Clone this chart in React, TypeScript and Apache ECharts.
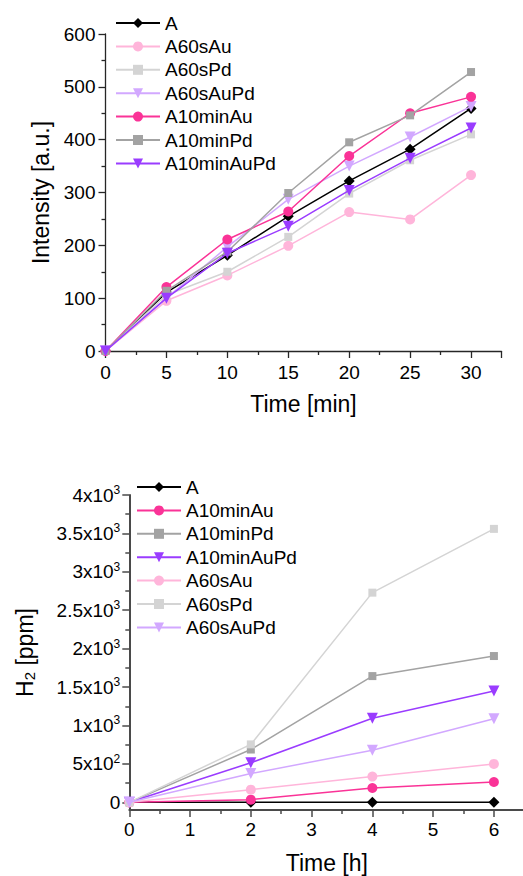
import React, { useEffect, useRef } from 'react';
import * as echarts from 'echarts';

// ---------- Top chart data ----------
const timeMin = [0, 5, 10, 15, 20, 25, 30];
const topNames = ['A', 'A60sAu', 'A60sPd', 'A60sAuPd', 'A10minAu', 'A10minPd', 'A10minAuPd'];
const topA = [0, 111, 181, 255, 322, 382, 459];
const topA60sAu = [0, 95, 143, 199, 263, 249, 333];
const topA60sPd = [0, 106, 150, 216, 298, 361, 410];
const topA60sAuPd = [0, 100, 197, 287, 350, 405, 463];
const topA10minAu = [0, 121, 211, 264, 369, 450, 481];
const topA10minPd = [0, 114, 188, 299, 395, 446, 528];
const topA10minAuPd = [0, 100, 185, 236, 304, 365, 422];
const topValues = [topA, topA60sAu, topA60sPd, topA60sAuPd, topA10minAu, topA10minPd, topA10minAuPd];

// ---------- Bottom chart data ----------
const timeH = [0, 2, 4, 6];
const botNames = ['A', 'A10minAu', 'A10minPd', 'A10minAuPd', 'A60sAu', 'A60sPd', 'A60sAuPd'];
const botA = [0, 0, 0, 0];
const botA10minAu = [0, 35, 186, 265];
const botA10minPd = [0, 687, 1643, 1904];
const botA10minAuPd = [0, 515, 1095, 1449];
const botA60sAu = [0, 165, 335, 500];
const botA60sPd = [0, 754, 2729, 3559];
const botA60sAuPd = [0, 374, 678, 1088];
const botValues = [botA, botA10minAu, botA10minPd, botA10minAuPd, botA60sAu, botA60sPd, botA60sAuPd];

const h2TickValues = [0, 500, 1000, 1500, 2000, 2500, 3000, 3500, 4000];
const h2MinorValues = [250, 750, 1250, 1750, 2250, 2750, 3250, 3750];

const FONT = '"Liberation Sans", Arial, sans-serif';
const TRI_DOWN = 'path://M0,0L10,0L5,9Z';

const styleFor: Record<string, { color: string; symbol: string; size: number }> = {
  A: { color: '#000000', symbol: 'diamond', size: 11 },
  A60sAu: { color: '#FFB5DA', symbol: 'circle', size: 10 },
  A60sPd: { color: '#D4D4D4', symbol: 'rect', size: 8 },
  A60sAuPd: { color: '#D2A8FF', symbol: TRI_DOWN, size: 11 },
  A10minAu: { color: '#FA3397', symbol: 'circle', size: 10 },
  A10minPd: { color: '#A3A3A3', symbol: 'rect', size: 8 },
  A10minAuPd: { color: '#9A3CFF', symbol: TRI_DOWN, size: 11 },
};

function sciLabel(v: number): string {
  if (v === 0) return '0';
  const exp = v >= 1000 ? 3 : 2;
  const m = v / Math.pow(10, exp);
  return `{m|${m}x10}{e|${exp}}`;
}

export default function App() {
  const ref = useRef<HTMLDivElement>(null);

  useEffect(() => {
    if (!ref.current) return;
    const chart = echarts.init(ref.current, null, { renderer: 'svg' });

    const axisColorTop = '#262626';
    const axisColorBot = '#4a4a4a';

    const mkSeries = (names: string[], xs: number[], vals: number[][], idx: number) =>
      names.map((n, i) => {
        const s = styleFor[n];
        return {
          name: n,
          type: 'line',
          xAxisIndex: idx,
          yAxisIndex: idx === 0 ? 0 : 1,
          data: xs.map((x, j) => [x, vals[i][j]]),
          symbol: s.symbol,
          symbolSize: s.size,
          showSymbol: true,
          lineStyle: { color: s.color, width: 1.5 },
          itemStyle: { color: s.color },
          emphasis: { disabled: true },
          silent: true,
          z: 2 + i,
        };
      });

    const legendBase = {
      orient: 'vertical',
      padding: 0,
      itemWidth: 44,
      itemHeight: 12.5,
      itemGap: 4.4,
      selectedMode: false,
      textStyle: { fontFamily: FONT, fontSize: 19, color: '#000' },
    };

    chart.setOption({
      animation: false,
      backgroundColor: '#ffffff',
      textStyle: { fontFamily: FONT },
      grid: [
        { left: 105.5, top: 34, width: 396, height: 317, containLabel: false, outerBoundsMode: 'none' },
        { left: 129.3, top: 495, width: 395, height: 315, containLabel: false, outerBoundsMode: 'none' },
      ],
      legend: [
        { ...legendBase, data: topNames, left: 115, top: 13.5 },
        { ...legendBase, data: botNames, left: 136, top: 477.5 },
      ],
      xAxis: [
        {
          type: 'value',
          gridIndex: 0,
          min: 0,
          max: 32.5,
          interval: 5,
          name: 'Time [min]',
          nameLocation: 'middle',
          nameGap: 41,
          nameTextStyle: { fontFamily: FONT, fontSize: 23, color: '#000' },
          axisLine: { show: true, onZero: false, lineStyle: { color: axisColorTop, width: 1.3 } },
          axisTick: { show: true, inside: false, length: 7, lineStyle: { color: axisColorTop, width: 1.3 } },
          minorTick: { show: true, splitNumber: 2, length: 4, lineStyle: { color: axisColorTop, width: 1.3 } },
          axisLabel: {
            margin: 12,
            fontFamily: FONT,
            fontSize: 19,
            color: '#000',
            formatter: (v: number) => (v % 5 === 0 ? String(v) : ''),
          },
          splitLine: { show: false },
          minorSplitLine: { show: false },
        },
        {
          type: 'value',
          gridIndex: 1,
          min: 0,
          max: 6.5,
          interval: 1,
          name: 'Time [h]',
          nameLocation: 'middle',
          nameGap: 41,
          nameTextStyle: { fontFamily: FONT, fontSize: 23, color: '#000' },
          axisLine: { show: true, onZero: false, lineStyle: { color: axisColorBot, width: 2 } },
          axisTick: { show: true, inside: false, length: 7, lineStyle: { color: axisColorBot, width: 1.5 } },
          minorTick: { show: true, splitNumber: 2, length: 4, lineStyle: { color: axisColorBot, width: 1.5 } },
          axisLabel: {
            margin: 10,
            fontFamily: FONT,
            fontSize: 19,
            color: '#000',
            formatter: (v: number) => (v % 1 === 0 ? String(v) : ''),
          },
          splitLine: { show: false },
          minorSplitLine: { show: false },
        },
      ],
      yAxis: [
        {
          type: 'value',
          gridIndex: 0,
          min: 0,
          max: 600,
          interval: 100,
          name: 'Intensity [a.u.]',
          nameLocation: 'middle',
          nameGap: 50,
          nameTextStyle: { fontFamily: FONT, fontSize: 23, color: '#000' },
          axisLine: { show: true, onZero: false, lineStyle: { color: axisColorTop, width: 1.3 } },
          axisTick: { show: true, inside: false, length: 7, lineStyle: { color: axisColorTop, width: 1.3 } },
          minorTick: { show: true, splitNumber: 2, length: 4, lineStyle: { color: axisColorTop, width: 1.3 } },
          axisLabel: { margin: 10, fontFamily: FONT, fontSize: 19, color: '#000' },
          splitLine: { show: false },
          minorSplitLine: { show: false },
        },
        {
          type: 'value',
          gridIndex: 1,
          min: -100,
          max: 4000,
          name: '{n|H}{s|2}{n| [ppm]}',
          nameLocation: 'middle',
          nameGap: 92,
          nameTextStyle: {
            fontFamily: FONT,
            fontSize: 23,
            color: '#000',
            rich: {
              n: { fontFamily: FONT, fontSize: 23, color: '#000' },
              s: { fontFamily: FONT, fontSize: 15, color: '#000', padding: [10, 0, 0, 0] },
            },
          },
          axisLine: { show: true, onZero: false, lineStyle: { color: axisColorBot, width: 2 } },
          axisTick: {
            show: true,
            inside: false,
            length: 7,
            customValues: h2TickValues,
            lineStyle: { color: axisColorBot, width: 1.5 },
          },
          axisLabel: {
            margin: 9,
            customValues: h2TickValues,
            fontFamily: FONT,
            fontSize: 19,
            color: '#000',
            formatter: (v: number) => sciLabel(v),
            rich: {
              m: { fontFamily: FONT, fontSize: 19, color: '#000' },
              e: { fontFamily: FONT, fontSize: 12, color: '#000', padding: [0, 0, 10, 0] },
            },
          },
          splitLine: { show: false },
        },
        {
          type: 'value',
          gridIndex: 1,
          min: -100,
          max: 4000,
          position: 'left',
          axisLine: { show: false },
          axisTick: {
            show: true,
            inside: false,
            length: 4,
            customValues: h2MinorValues,
            lineStyle: { color: axisColorBot, width: 1.5 },
          },
          axisLabel: { show: false },
          splitLine: { show: false },
        },
      ],
      series: [
        ...mkSeries(topNames, timeMin, topValues, 0),
        ...mkSeries(botNames, timeH, botValues, 1),
      ],
    });

    return () => chart.dispose();
  }, []);

  return (
    <div
      ref={ref}
      style={{ position: 'fixed', left: 0, top: 0, width: 523, height: 876, background: '#fff' }}
    />
  );
}
